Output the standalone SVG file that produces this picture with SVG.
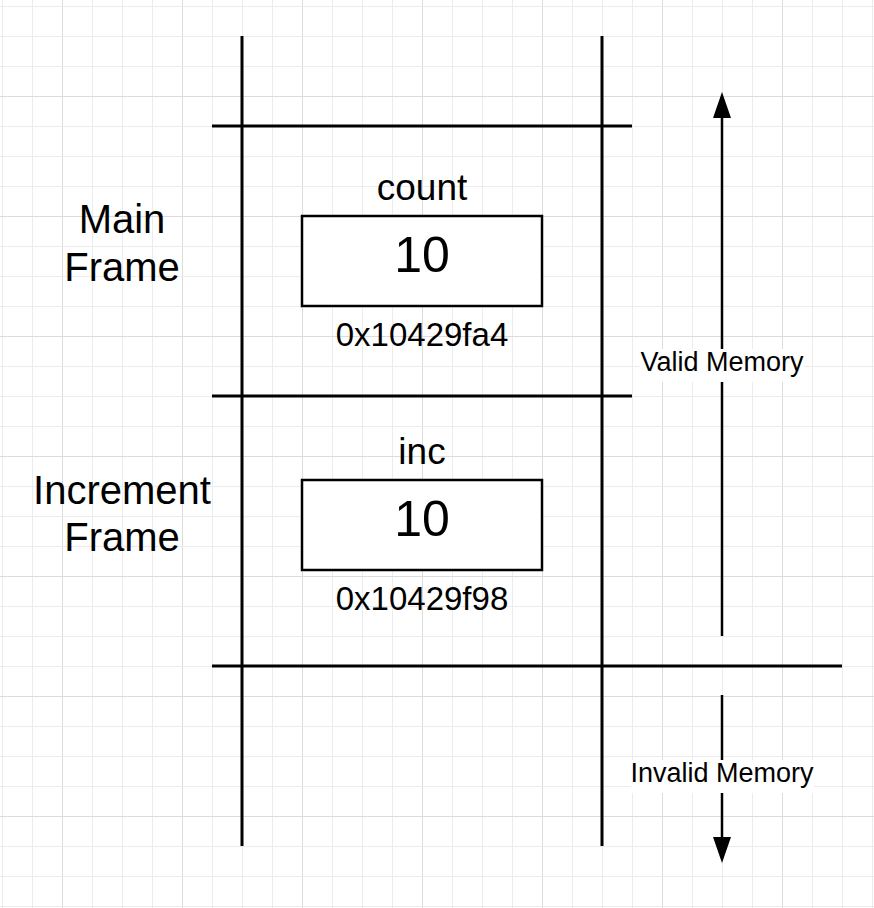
<svg xmlns="http://www.w3.org/2000/svg" width="874" height="908" viewBox="0 0 874 908">
  <style>
    text { font-family: "Liberation Sans", Arial, sans-serif; fill: #000; text-anchor: middle; }
    .frame { font-size: 40px; }
    .var { font-size: 37px; }
    .val { font-size: 50px; }
    .addr { font-size: 33px; }
    .lbl { font-size: 27px; }
    .wall { stroke: #000; stroke-width: 3; fill: none; }
    .box { stroke: #000; stroke-width: 2.5; fill: #fff; }
    .arrow { stroke: #000; stroke-width: 2.5; fill: none; marker-end: url(#head); }
    .bg { fill: #fff; }
  </style>
  <defs>
    <pattern id="grid" patternUnits="userSpaceOnUse" x="2" y="6" width="120" height="120">
      <rect x="0" y="0" width="1" height="120" fill="#ececec"/>
      <rect x="30" y="0" width="1" height="120" fill="#ececec"/>
      <rect x="60" y="0" width="1" height="120" fill="#dcdcdc"/>
      <rect x="90" y="0" width="1" height="120" fill="#ececec"/>
      <rect x="0" y="0" width="120" height="1" fill="#ececec"/>
      <rect x="0" y="30" width="120" height="1" fill="#ececec"/>
      <rect x="0" y="60" width="120" height="1" fill="#ececec"/>
      <rect x="0" y="90" width="120" height="1" fill="#dcdcdc"/>
    </pattern>
    <marker id="head" markerUnits="userSpaceOnUse" markerWidth="26" markerHeight="18" refX="0" refY="9" orient="auto" overflow="visible">
      <path d="M0,0 L26,9 L0,18 Z" fill="#000"/>
    </marker>
  </defs>

  <rect x="0" y="0" width="874" height="908" fill="#fff"/>
  <rect x="0" y="0" width="874" height="908" fill="url(#grid)"/>

  <g id="stack-lines">
    <line class="wall" x1="242" y1="36" x2="242" y2="846"/>
    <line class="wall" x1="602" y1="36" x2="602" y2="846"/>
    <line class="wall" x1="212" y1="126" x2="632" y2="126"/>
    <line class="wall" x1="212" y1="396" x2="632" y2="396"/>
    <line class="wall" x1="212" y1="666" x2="842" y2="666"/>
  </g>

  <g id="main-frame-label">
    <text class="frame" x="122" y="233">Main</text>
    <text class="frame" x="122" y="281">Frame</text>
  </g>

  <g id="increment-frame-label">
    <text class="frame" x="122" y="504">Increment</text>
    <text class="frame" x="122" y="551">Frame</text>
  </g>

  <g id="count-var">
    <text class="var" x="422" y="200">count</text>
    <rect class="box" x="302" y="216" width="240" height="90"/>
    <text class="val" x="422" y="272">10</text>
    <text class="addr" x="422" y="346">0x10429fa4</text>
  </g>

  <g id="inc-var">
    <text class="var" x="422" y="464">inc</text>
    <rect class="box" x="302" y="480" width="240" height="90"/>
    <text class="val" x="422" y="536">10</text>
    <text class="addr" x="422" y="610">0x10429f98</text>
  </g>

  <g id="connectors">
    <line class="arrow" x1="722" y1="636" x2="722" y2="118"/>
    <line class="arrow" x1="722" y1="695" x2="722" y2="837"/>
    <rect class="bg" x="640" y="349" width="164" height="33"/>
    <text class="lbl" x="722" y="371">Valid Memory</text>
    <rect class="bg" x="631" y="760" width="183" height="33"/>
    <text class="lbl" x="722" y="782">Invalid Memory</text>
  </g>
</svg>
